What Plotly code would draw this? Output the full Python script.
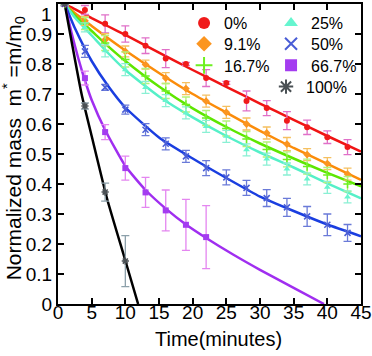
import plotly.graph_objects as go

# measured points (time in minutes, normalized mass)
t_long = [1, 4, 7, 10, 13, 16, 19, 22, 25, 28, 31, 34, 37, 40, 43]
t_purple = [1, 4, 7, 10, 13, 16, 19, 22]
t_black = [1, 4, 7, 10]

m_0 = [1, 0.98, 0.934, 0.90, 0.861, 0.818, 0.80, 0.753, 0.737, 0.677, 0.653, 0.611, 0.589, 0.556, 0.523]
e_0 = [0.005, 0.015, 0.03, 0.027, 0.026, 0.03, 0.005, 0.028, 0.005, 0.033, 0.025, 0.03, 0.024, 0.021, 0.025]
m_9 = [1, 0.944, 0.881, 0.842, 0.798, 0.753, 0.718, 0.676, 0.639, 0.60, 0.57, 0.533, 0.498, 0.468, 0.433]
e_9 = [0.005, 0.015, 0.02, 0.018, 0.015, 0.018, 0.02, 0.02, 0.02, 0.02, 0.02, 0.022, 0.02, 0.02, 0.02]
m_16 = [1, 0.935, 0.87, 0.815, 0.76, 0.71, 0.665, 0.62, 0.585, 0.55, 0.515, 0.482, 0.458, 0.43, 0.40]
e_16 = [0.005, 0.02, 0.025, 0.025, 0.025, 0.025, 0.025, 0.025, 0.025, 0.025, 0.025, 0.025, 0.025, 0.025, 0.025]
m_25 = [1, 0.922, 0.844, 0.781, 0.722, 0.678, 0.637, 0.592, 0.559, 0.514, 0.483, 0.45, 0.417, 0.389, 0.357]
e_25 = [0.005, 0.015, 0.02, 0.02, 0.02, 0.02, 0.02, 0.02, 0.02, 0.02, 0.02, 0.02, 0.02, 0.02, 0.02]
m_50 = [1, 0.842, 0.722, 0.648, 0.581, 0.534, 0.492, 0.453, 0.422, 0.387, 0.353, 0.322, 0.292, 0.264, 0.237]
e_50 = [0.005, 0.02, 0.01, 0.015, 0.02, 0.02, 0.02, 0.025, 0.025, 0.025, 0.028, 0.03, 0.033, 0.036, 0.028]
m_66 = [1, 0.753, 0.573, 0.453, 0.372, 0.312, 0.264, 0.223]
e_66 = [0.005, 0.023, 0.025, 0.04, 0.05, 0.068, 0.085, 0.105]
m_100 = [1, 0.66, 0.373, 0.143]
e_100 = [0.005, 0.01, 0.03, 0.085]

# fitted curves
fit_t = [1, 2.5, 5, 7.5, 10, 15, 20, 25, 30, 35, 40, 45]
fit_0 = [1, 0.983, 0.953, 0.925, 0.897, 0.838, 0.78, 0.724, 0.668, 0.614, 0.56, 0.508]
fit_9 = [1, 0.97, 0.927, 0.885, 0.845, 0.77, 0.70, 0.638, 0.577, 0.52, 0.467, 0.414]
fit_16 = [1, 0.962, 0.91, 0.858, 0.81, 0.725, 0.652, 0.59, 0.535, 0.485, 0.437, 0.392]
fit_25 = [1, 0.955, 0.895, 0.835, 0.78, 0.692, 0.622, 0.56, 0.505, 0.455, 0.402, 0.352]
fit_50 = [1, 0.92, 0.81, 0.725, 0.655, 0.555, 0.485, 0.42, 0.358, 0.31, 0.265, 0.226]
fit_t66 = [1, 2, 3, 4, 5, 7, 10, 13, 16, 19, 22, 26, 30, 35, 39.5]
fit_66 = [1, 0.905, 0.82, 0.745, 0.68, 0.58, 0.46, 0.38, 0.318, 0.265, 0.22, 0.165, 0.114, 0.054, 0]
fit_t100 = [1, 3.5, 5, 7.3, 10, 11.9]
fit_100 = [1, 0.70, 0.56, 0.35, 0.145, 0]

y_ticks = [0, 0.1, 0.2, 0.3, 0.4, 0.5, 0.6, 0.7, 0.8, 0.9]
y_ticktext = ["0", "0.1", "0.2", "0.3", "0.4", "0.5", "0.6", "0.7", "0.8", "0.9"]

FONT = "Liberation Sans, Arial, sans-serif"

series = [
    # name, t, m, err, fit t, fit m, line colour, marker colour, errbar colour, symbol, legend row
    ("0%", t_long, m_0, e_0, fit_t, fit_0, "#f01414", "#f01a1a", "#e070c8", "circle", "legend"),
    ("9.1%", t_long, m_9, e_9, fit_t, fit_9, "#fb8c0a", "#fb9520", "#f5c060", "diamond", "legend2"),
    ("16.7%", t_long, m_16, e_16, fit_t, fit_16, "#5ee600", "#6ef020", "#b4f27a", "cross-thin", "legend3"),
    ("25%", t_long, m_25, e_25, fit_t, fit_25, "#55f0c8", "#66f5cf", "#8af0d4", "triangle-up", "legend"),
    ("50%", t_long, m_50, e_50, fit_t, fit_50, "#1a3ee0", "#4a5ed6", "#6a7ad8", "x-thin", "legend2"),
    ("66.7%", t_purple, m_66, e_66, fit_t66, fit_66, "#a02ef0", "#a43cf0", "#e486f0", "square", "legend3"),
    ("100%", t_black, m_100, e_100, fit_t100, fit_100, "#000000", "#4a5054", "#8ca0aa", "asterisk-open", "legend4"),
]

fig = go.Figure()

for name, t, m, e, ft, fm, lc, mc, ec, sym, lg in series:
    fig.add_trace(go.Scatter(
        x=ft, y=fm, mode="lines", line=dict(color=lc, width=2.5, shape="spline", smoothing=0.5),
        showlegend=False, hoverinfo="skip",
    ))

for name, t, m, e, ft, fm, lc, mc, ec, sym, lg in series:
    thin = sym in ("cross-thin", "x-thin", "asterisk-open")
    fig.add_trace(go.Scatter(
        x=t, y=m, mode="markers", name=name, legend=lg,
        marker=dict(symbol=sym, size=6, color=mc,
                    line=dict(color=mc, width=1.5 if thin else 0)),
        error_y=dict(type="data", array=e, visible=True, color=ec, thickness=1.3, width=4),
    ))

axis_common = dict(
    showline=True, linecolor="black", linewidth=2, mirror="ticks",
    ticks="inside", ticklen=6, tickwidth=2, tickcolor="black",
    showgrid=False, zeroline=False, automargin=False,
    tickfont=dict(family=FONT, size=19, color="black"),
)

# one horizontal legend per row so the two columns line up like the original
row_y = [0.993, 0.924, 0.852, 0.781]
row_x = [0.416, 0.416, 0.416, 0.6865]
legends = {}
for i, key in enumerate(["legend", "legend2", "legend3", "legend4"]):
    legends[key] = dict(
        orientation="h", x=row_x[i], y=row_y[i], xanchor="left", yanchor="top",
        bgcolor="rgba(0,0,0,0)", font=dict(size=16), itemsizing="constant",
        entrywidth=42, entrywidthmode="pixels",
    )

fig.update_layout(
    width=372, height=356,
    margin=dict(l=58, r=11, t=4, b=52),
    paper_bgcolor="white", plot_bgcolor="white",
    font=dict(family=FONT, color="black"),
    xaxis=dict(range=[0, 45], dtick=5, tick0=0, ticklabelstandoff=-10, **axis_common),
    yaxis=dict(range=[0, 1], tickvals=y_ticks, ticktext=y_ticktext, **axis_common),
    annotations=[
        dict(text="1", xref="paper", yref="y", x=0, y=1, xanchor="right",
             yanchor="middle", xshift=-4, yshift=-10, showarrow=False,
             font=dict(family=FONT, size=19, color="black")),
        dict(text="Time(minutes)", xref="paper", yref="paper", x=0.53, y=-0.117,
             xanchor="center", yanchor="middle", showarrow=False,
             font=dict(family=FONT, size=20, color="black")),
        dict(text="Normalized mass  m<sup>*</sup> =m/m<sub>0</sub>", textangle=-90,
             xref="paper", yref="paper", x=-0.1485, y=0.519,
             xanchor="center", yanchor="middle", showarrow=False,
             font=dict(family=FONT, size=21, color="black")),
    ],
    **legends,
)

fig.write_html("out.html", config={"displayModeBar": False},
               post_script="document.body.style.margin='0';")
